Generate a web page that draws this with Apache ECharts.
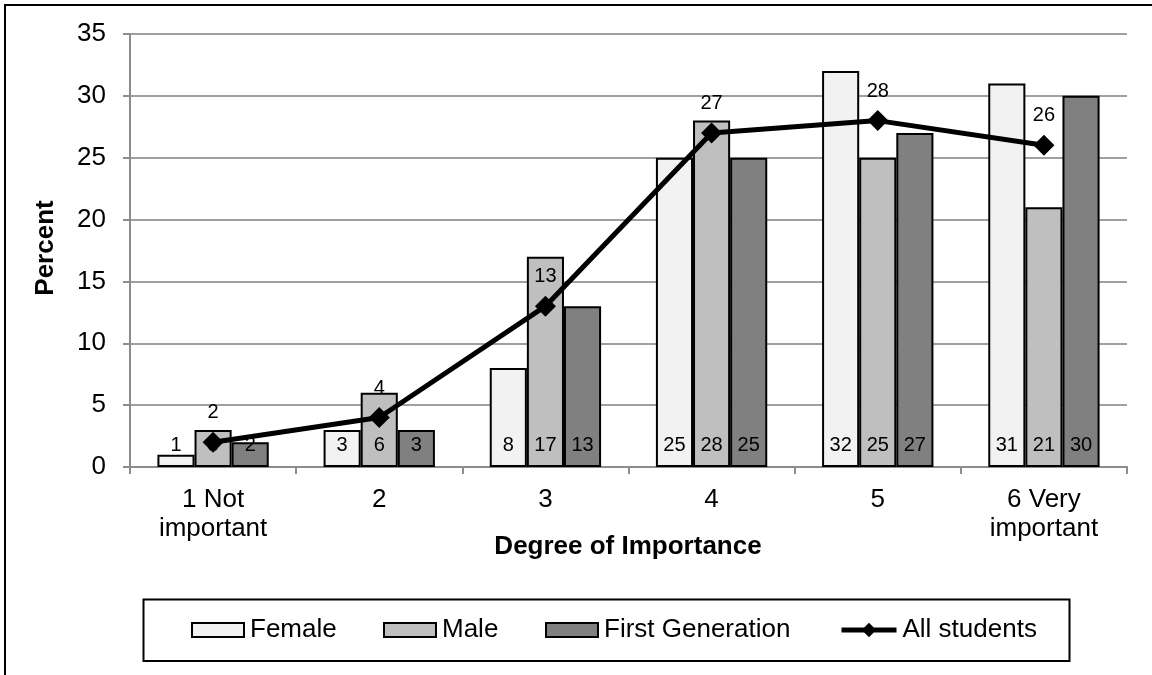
<!DOCTYPE html>
<html>
<head>
<meta charset="utf-8">
<script src="https://cdn.jsdelivr.net/npm/echarts@6/dist/echarts.min.js"></script>
<style>
html,body{margin:0;padding:0;background:#fff;}
#chart{width:1152px;height:675px;}
</style>
</head>
<body>
<div id="chart"></div>
<script>
const categories = ['1 Not\nimportant', '2', '3', '4', '5', '6 Very\nimportant'];
const female = [1, 3, 8, 25, 32, 31];
const male = [3, 6, 17, 28, 25, 21];
const firstGen = [2, 3, 13, 25, 27, 30];
const allStudents = [2, 4, 13, 27, 28, 26];
const yTicks = { min: 0, max: 35, interval: 5 };

const FONT = '"Liberation Sans", Arial, sans-serif';
const chart = echarts.init(document.getElementById('chart'), null, { renderer: 'canvas' });

function barSeries(name, data, color) {
  return {
    name: name,
    type: 'bar',
    data: data,
    barGap: '0%',
    barCategoryGap: '33%',
    z: 2,
    itemStyle: { color: color, borderColor: '#000', borderWidth: 2 },
    label: {
      show: true,
      position: 'insideBottom',
      distance: 12,
      color: '#000',
      fontFamily: FONT,
      fontSize: 20
    },
    emphasis: { disabled: true }
  };
}

function legendAt(name, left, w, h, icon) {
  const l = {
    data: [{ name: name, icon: icon }],
    left: left,
    top: 617,
    padding: 0,
    itemWidth: w,
    itemHeight: h,
    itemGap: 0,
    selectedMode: false,
    textStyle: { fontFamily: FONT, fontSize: 26, color: '#000', padding: [0, 0, 0, 1] }
  };
  if (!icon) l.data = [name];
  return l;
}

const option = {
  animation: false,
  backgroundColor: '#fff',
  grid: { left: 130, right: 25, top: 34, bottom: 208 },
  legend: [
    legendAt('Female', 191, 52, 14, 'rect'),
    legendAt('Male', 383, 52, 14, 'rect'),
    legendAt('First Generation', 545, 52, 14, 'rect'),
    Object.assign(legendAt('All students', 839, 55, 18, null), {
      top: 617,
      lineStyle: { width: 5, color: '#000' },
      itemStyle: { color: '#000' }
    })
  ],
  xAxis: {
    type: 'category',
    data: categories,
    axisLine: { lineStyle: { color: '#8c8c8c', width: 2 } },
    axisTick: { show: true, length: 7, lineStyle: { color: '#8c8c8c', width: 2 } },
    axisLabel: {
      color: '#000', fontFamily: FONT, fontSize: 26, lineHeight: 29, margin: 18,
      interval: 0
    },
    splitLine: { show: false }
  },
  yAxis: {
    type: 'value',
    min: yTicks.min, max: yTicks.max, interval: yTicks.interval,
    axisLine: { show: true, lineStyle: { color: '#8c8c8c', width: 2 } },
    axisTick: { show: true, length: 7, lineStyle: { color: '#8c8c8c', width: 2 } },
    axisLabel: { color: '#000', fontFamily: FONT, fontSize: 26, margin: 24 },
    splitLine: { show: true, lineStyle: { color: '#a0a0a0', width: 2 } }
  },
  series: [
    barSeries('Female', female, '#f2f2f2'),
    barSeries('Male', male, '#bfbfbf'),
    barSeries('First Generation', firstGen, '#808080'),
    {
      name: 'All students',
      type: 'line',
      data: allStudents,
      z: 5,
      zlevel: 1,
      symbol: 'diamond',
      symbolSize: 21,
      itemStyle: { color: '#000' },
      lineStyle: { color: '#000', width: 5 },
      label: {
        show: true,
        position: 'top',
        distance: 9,
        color: '#000',
        fontFamily: FONT,
        fontSize: 20
      },
      emphasis: { disabled: true }
    }
  ],
  graphic: [
    {
      type: 'rect',
      shape: { x: 5, y: 5, width: 1300, height: 800 },
      style: { fill: null, stroke: '#000', lineWidth: 2 },
      silent: true, z: 0
    },
    {
      type: 'rect',
      shape: { x: 143.5, y: 599.5, width: 926, height: 61.5 },
      style: { fill: null, stroke: '#000', lineWidth: 2 },
      silent: true, z: 0
    },
    {
      type: 'text',
      x: 628, y: 547,
      style: {
        text: 'Degree of Importance', fill: '#000',
        font: 'bold 26px ' + FONT,
        textAlign: 'center', textVerticalAlign: 'middle'
      },
      silent: true
    },
    {
      type: 'text',
      x: 46, y: 248,
      rotation: Math.PI / 2,
      style: {
        text: 'Percent', fill: '#000',
        font: 'bold 26px ' + FONT,
        textAlign: 'center', textVerticalAlign: 'middle'
      },
      silent: true
    }
  ]
};
chart.setOption(option);
</script>
</body>
</html>
